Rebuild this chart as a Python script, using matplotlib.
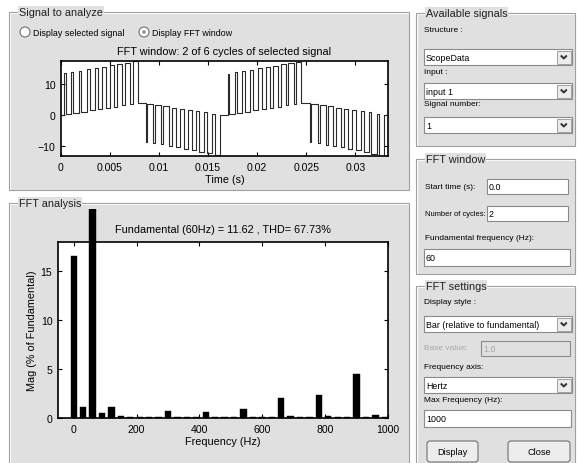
import matplotlib
matplotlib.use("Agg")
import matplotlib.pyplot as plt
from matplotlib.patches import Rectangle, Circle, FancyBboxPatch
from matplotlib.transforms import Bbox, TransformedBbox

W, H = 577, 464
PANEL = "#e0e0e0"
FONT = "Liberation Sans"

# --- time signal: pulses (start, width, pulse level, level after) ---
START_LEVEL = 0.1
PULSE_START = [
    0.00034, 0.00105, 0.00182, 0.00265, 0.00342, 0.00418, 0.00495, 0.00575, 0.00652, 0.00730,
    0.00864, 0.00942, 0.01020, 0.01098, 0.01176, 0.01255, 0.01333, 0.01410, 0.01490, 0.01568,
    0.01700, 0.01772, 0.01850, 0.01930, 0.02008, 0.02085, 0.02162, 0.02242, 0.02318, 0.02396,
    0.02540, 0.02618, 0.02697, 0.02775, 0.02852, 0.02930, 0.03008, 0.03087, 0.03165, 0.03242,
]
PULSE_WIDTH = [
    0.00012, 0.00018, 0.00024, 0.00030, 0.00036, 0.00041, 0.00046, 0.00050, 0.00054, 0.00050,
    0.00012, 0.00018, 0.00024, 0.00030, 0.00036, 0.00041, 0.00046, 0.00050, 0.00054, 0.00050,
    0.00012, 0.00018, 0.00024, 0.00030, 0.00036, 0.00041, 0.00046, 0.00050, 0.00054, 0.00050,
    0.00012, 0.00018, 0.00024, 0.00030, 0.00036, 0.00041, 0.00046, 0.00050, 0.00054, 0.00048,
]
PULSE_LEVEL = [
    13.8, 14.1, 14.5, 14.9, 15.3, 15.8, 16.2, 16.6, 17.0, 17.5,
    -8.7, -9.2, -9.6, -10.0, -10.5, -11.0, -11.5, -12.0, -12.5, -13.2,
    13.5, 14.0, 14.4, 14.8, 15.3, 15.7, 16.1, 16.6, 17.0, 17.4,
    -8.8, -9.2, -9.7, -10.1, -10.6, -11.0, -11.5, -12.0, -12.6, -13.3,
]
IDLE_LEVEL = [
    0.3, 0.7, 1.1, 1.5, 1.9, 2.3, 2.7, 3.1, 3.5, 4.0,
    3.6, 3.2, 2.8, 2.4, 2.0, 1.6, 1.2, 0.8, 0.4, 0.0,
    0.3, 0.7, 1.1, 1.5, 1.9, 2.3, 2.7, 3.1, 3.5, 4.0,
    3.6, 3.2, 2.8, 2.4, 2.0, 1.6, 1.2, 0.8, 0.4, 0.0,
]
T_END = 2 / 60

# --- FFT bars ---
FREQS = [0, 30, 60, 90, 120, 150, 180, 210, 240, 270, 300, 330, 360, 390, 420, 450, 480,
         510, 540, 570, 600, 630, 660, 690, 720, 750, 780, 810, 840, 870, 900, 930, 960, 990]
MAGS = [16.55, 1.1, 100.0, 0.5, 1.1, 0.25, 0.15, 0.15, 0.15, 0.1, 0.75, 0.08, 0.08, 0.08,
        0.65, 0.08, 0.08, 0.08, 0.95, 0.08, 0.08, 0.08, 2.05, 0.17, 0.08, 0.08, 2.37, 0.17,
        0.15, 0.08, 4.53, 0.15, 0.27, 0.08]

TIME_TICKS = [0, 0.005, 0.01, 0.015, 0.02, 0.025, 0.03]
TIME_TICK_LABELS = ["0", "0.005", "0.01", "0.015", "0.02", "0.025", "0.03"]


def px_axes(fig, x0, y0, x1, y1):
    return fig.add_axes([x0 / W, 1 - y1 / H, (x1 - x0) / W, (y1 - y0) / H])


def panel(ax, x0, y0, x1, y1, title):
    ax.add_patch(Rectangle((x0, y0), x1 - x0, y1 - y0, facecolor=PANEL, edgecolor="none"))
    ax.add_patch(Rectangle((x0 + 1, y0 + 1), x1 - x0, y1 - y0, facecolor="none",
                           edgecolor="white", lw=0.8))
    ax.add_patch(Rectangle((x0, y0), x1 - x0, y1 - y0, facecolor="none",
                           edgecolor="#a0a0a0", lw=0.8))
    ax.text(x0 + 10, y0, title, fontsize=7.8, family=FONT, va="center", ha="left",
            color="#202020", bbox=dict(facecolor=PANEL, edgecolor="none", pad=0.6))


def label(ax, x, y, text, color="black", size=6.0):
    ax.text(x, y, text, fontsize=size, family=FONT, va="center", ha="left", color=color)


def edit_box(ax, x0, y0, x1, y1, text, enabled=True):
    face = "white" if enabled else PANEL
    ax.add_patch(Rectangle((x0, y0), x1 - x0, y1 - y0, facecolor=face,
                           edgecolor="#8a8a8a", lw=0.8))
    label(ax, x0 + 2, (y0 + y1) / 2 + 0.5, text, color="black" if enabled else "#a8a8a8",
          size=6.4)


def popup(ax, x0, y0, x1, y1, text):
    edit_box(ax, x0, y0, x1, y1, text)
    bx = x1 - 15
    ax.add_patch(Rectangle((bx, y0 + 1.5), 13.5, y1 - y0 - 3, facecolor="#ececec",
                           edgecolor="#a0a0a0", lw=0.7))
    cx, cy = bx + 6.8, (y0 + y1) / 2
    ax.plot([cx - 3, cx, cx + 3], [cy - 1.5, cy + 1.5, cy - 1.5], color="#303030",
            lw=1.4, solid_capstyle="butt")


def button(ax, x0, y0, x1, y1, text):
    ax.add_patch(FancyBboxPatch((x0, y0), x1 - x0, y1 - y0,
                                boxstyle="round,pad=0,rounding_size=3",
                                facecolor="#ededed", edgecolor="#707070", lw=0.8))
    ax.text((x0 + x1) / 2, (y0 + y1) / 2 + 0.5, text, fontsize=6.6, family=FONT,
            ha="center", va="center")


def radio(ax, cx, cy, text, selected):
    ax.add_patch(Circle((cx, cy), 5, facecolor="white", edgecolor="#707070", lw=0.8))
    if selected:
        ax.add_patch(Circle((cx, cy), 1.8, facecolor="#909090", edgecolor="none"))
    label(ax, cx + 8, cy, text, size=6.4)


def signal_vertices():
    ts, vs = [0.0], [START_LEVEL]
    level = START_LEVEL
    for t0, w, hi, lo in zip(PULSE_START, PULSE_WIDTH, PULSE_LEVEL, IDLE_LEVEL):
        ts += [t0, t0, t0 + w, t0 + w]
        vs += [level, hi, hi, lo]
        level = lo
    ts.append(T_END)
    vs.append(level)
    return ts, vs


def style_axes(ax):
    for spine in ax.spines.values():
        spine.set_linewidth(1.2)
    ax.tick_params(direction="in", top=True, right=True, length=3, width=0.8,
                   labelsize=7.6, pad=4)
    for lab in ax.get_xticklabels() + ax.get_yticklabels():
        lab.set_family(FONT)


fig = plt.figure(figsize=(W / 100, H / 100), dpi=100)
fig.patch.set_facecolor("white")
bg = fig.add_axes([0, 0, 1, 1])
bg.set_xlim(0, W)
bg.set_ylim(H, 0)
bg.axis("off")

# left panels
panel(bg, 9, 13, 409, 191, "Signal to analyze")
panel(bg, 9, 204, 409, 470, "FFT analysis")
radio(bg, 25, 33, "Display selected signal", False)
radio(bg, 144, 33, "Display FFT window", True)

# right panels
panel(bg, 416, 14, 575, 147, "Available signals")
label(bg, 424, 30, "Structure :")
popup(bg, 424, 50, 572, 66, "ScopeData")
label(bg, 424, 73, "Input :")
popup(bg, 424, 84, 572, 100, "input 1")
label(bg, 424, 104, "Signal number:")
popup(bg, 424, 118, 572, 134, "1")

panel(bg, 416, 160, 575, 275, "FFT window")
label(bg, 425, 188, "Start time (s):")
edit_box(bg, 487, 180, 568, 195, "0.0")
label(bg, 425, 215, "Number of cycles:", size=5.4)
edit_box(bg, 487, 207, 568, 222, "2")
label(bg, 425, 239, "Fundamental frequency (Hz):")
edit_box(bg, 424, 250, 570, 267, "60")

panel(bg, 416, 287, 575, 470, "FFT settings")
label(bg, 424, 303, "Display style :")
popup(bg, 424, 317, 572, 333, "Bar (relative to fundamental)")
label(bg, 424, 349, "Base value:", color="#a8a8a8")
edit_box(bg, 481, 342, 570, 357, "1.0", enabled=False)
label(bg, 424, 368, "Frequency axis:")
popup(bg, 424, 378, 572, 394, "Hertz")
label(bg, 424, 401, "Max Frequency (Hz):")
edit_box(bg, 424, 411, 571, 428, "1000")
button(bg, 427, 442, 478, 463, "Display")
button(bg, 508, 442, 570, 463, "Close")

# time-domain window
ax1 = px_axes(fig, 61, 62, 388, 157)
ts, vs = signal_vertices()
ax1.plot(ts, vs, color="#2a2a2a", lw=0.8)
ax1.set_xlim(0, T_END)
ax1.set_ylim(-13.4, 17.6)
ax1.set_xticks(TIME_TICKS)
ax1.set_xticklabels(TIME_TICK_LABELS)
ax1.set_yticks([-10, 0, 10])
style_axes(ax1)
ax1.set_xlabel("Time (s)", fontsize=7.8, family=FONT, labelpad=2)
ax1.set_title("FFT window: 2 of 6 cycles of selected signal", fontsize=7.8,
              family=FONT, pad=5)

# spectrum
ax2 = px_axes(fig, 58, 243, 388, 419)
bars = ax2.bar(FREQS, MAGS, width=20, color="black", edgecolor="black", lw=0.3)
clip = TransformedBbox(Bbox.from_extents(58 / W, 0, 388 / W, 1 - 210 / H), fig.transFigure)
for b in bars:
    b.set_clip_box(clip)
ax2.set_xlim(-50, 1000)
ax2.set_ylim(0, 18)
ax2.set_xticks([0, 200, 400, 600, 800, 1000])
ax2.set_yticks([0, 5, 10, 15])
style_axes(ax2)
ax2.set_xlabel("Frequency (Hz)", fontsize=7.8, family=FONT, labelpad=2)
ax2.set_ylabel("Mag (% of Fundamental)", fontsize=7.8, family=FONT, labelpad=3)
ax2.set_title("Fundamental (60Hz) = 11.62 , THD= 67.73%", fontsize=7.8,
              family=FONT, pad=7)

fig.savefig("out.png", dpi=100)
